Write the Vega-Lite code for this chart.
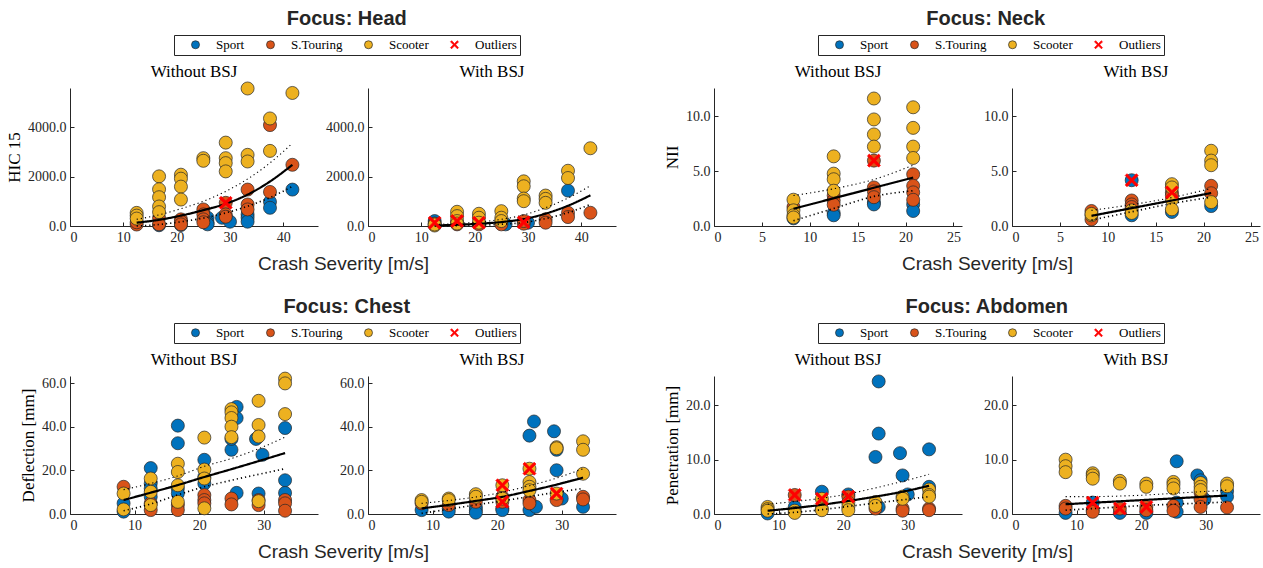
{
"$schema": "https://vega.github.io/schema/vega-lite/v6.json",
"padding": {"left": 5, "top": 8, "right": 5, "bottom": 5},
"background": "white",
"datasets": {
"headPts": [
{"p":"wo","x":16.7,"y":30,"t":"Sport"},{"p":"wo","x":20.8,"y":40,"t":"Sport"},{"p":"wo","x":25.8,"y":334,"t":"Sport"},{"p":"wo","x":25.8,"y":134,"t":"Sport"},{"p":"wo","x":25.8,"y":67,"t":"Sport"},{"p":"wo","x":28.5,"y":334,"t":"Sport"},{"p":"wo","x":30,"y":174,"t":"Sport"},{"p":"wo","x":33.3,"y":468,"t":"Sport"},{"p":"wo","x":33.3,"y":334,"t":"Sport"},{"p":"wo","x":33.3,"y":174,"t":"Sport"},{"p":"wo","x":37.5,"y":977,"t":"Sport"},{"p":"wo","x":37.5,"y":736,"t":"Sport"},{"p":"wo","x":41.7,"y":1472,"t":"Sport"},
{"p":"wo","x":12.5,"y":60,"t":"S.Touring"},{"p":"wo","x":12.5,"y":150,"t":"S.Touring"},{"p":"wo","x":16.7,"y":334,"t":"S.Touring"},{"p":"wo","x":16.7,"y":67,"t":"S.Touring"},{"p":"wo","x":20.8,"y":268,"t":"S.Touring"},{"p":"wo","x":20.8,"y":174,"t":"S.Touring"},{"p":"wo","x":20.8,"y":67,"t":"S.Touring"},{"p":"wo","x":25,"y":669,"t":"S.Touring"},{"p":"wo","x":25,"y":468,"t":"S.Touring"},{"p":"wo","x":25,"y":268,"t":"S.Touring"},{"p":"wo","x":25,"y":150,"t":"S.Touring"},{"p":"wo","x":29.2,"y":937,"t":"S.Touring"},{"p":"wo","x":29.2,"y":468,"t":"S.Touring"},{"p":"wo","x":29.2,"y":375,"t":"S.Touring"},{"p":"wo","x":33.3,"y":1472,"t":"S.Touring"},{"p":"wo","x":33.3,"y":870,"t":"S.Touring"},{"p":"wo","x":33.3,"y":669,"t":"S.Touring"},{"p":"wo","x":37.5,"y":4081,"t":"S.Touring"},{"p":"wo","x":37.5,"y":1378,"t":"S.Touring"},{"p":"wo","x":41.7,"y":2475,"t":"S.Touring"},
{"p":"wo","x":12.5,"y":530,"t":"Scooter"},{"p":"wo","x":12.5,"y":420,"t":"Scooter"},{"p":"wo","x":12.5,"y":300,"t":"Scooter"},{"p":"wo","x":16.7,"y":2007,"t":"Scooter"},{"p":"wo","x":16.7,"y":1485,"t":"Scooter"},{"p":"wo","x":16.7,"y":1164,"t":"Scooter"},{"p":"wo","x":16.7,"y":789,"t":"Scooter"},{"p":"wo","x":16.7,"y":560,"t":"Scooter"},{"p":"wo","x":20.8,"y":2074,"t":"Scooter"},{"p":"wo","x":20.8,"y":1913,"t":"Scooter"},{"p":"wo","x":20.8,"y":1592,"t":"Scooter"},{"p":"wo","x":20.8,"y":1070,"t":"Scooter"},{"p":"wo","x":25,"y":2743,"t":"Scooter"},{"p":"wo","x":25,"y":2636,"t":"Scooter"},{"p":"wo","x":29.2,"y":3372,"t":"Scooter"},{"p":"wo","x":29.2,"y":2743,"t":"Scooter"},{"p":"wo","x":29.2,"y":2542,"t":"Scooter"},{"p":"wo","x":29.2,"y":2208,"t":"Scooter"},{"p":"wo","x":33.3,"y":5560,"t":"Scooter"},{"p":"wo","x":33.3,"y":2877,"t":"Scooter"},{"p":"wo","x":33.3,"y":2609,"t":"Scooter"},{"p":"wo","x":37.5,"y":4349,"t":"Scooter"},{"p":"wo","x":37.5,"y":3037,"t":"Scooter"},{"p":"wo","x":41.7,"y":5379,"t":"Scooter"},
{"p":"wo","x":29.2,"y":937,"t":"Outliers"},
{"p":"w","x":12.5,"y":200,"t":"Sport"},{"p":"w","x":25.8,"y":67,"t":"Sport"},{"p":"w","x":30,"y":134,"t":"Sport"},{"p":"w","x":37.5,"y":1432,"t":"Sport"},
{"p":"w","x":12.5,"y":100,"t":"S.Touring"},{"p":"w","x":16.7,"y":67,"t":"S.Touring"},{"p":"w","x":20.8,"y":67,"t":"S.Touring"},{"p":"w","x":25,"y":67,"t":"S.Touring"},{"p":"w","x":29.2,"y":94,"t":"S.Touring"},{"p":"w","x":29.2,"y":200,"t":"S.Touring"},{"p":"w","x":33.3,"y":268,"t":"S.Touring"},{"p":"w","x":33.3,"y":134,"t":"S.Touring"},{"p":"w","x":37.5,"y":535,"t":"S.Touring"},{"p":"w","x":37.5,"y":361,"t":"S.Touring"},{"p":"w","x":41.7,"y":535,"t":"S.Touring"},
{"p":"w","x":12.5,"y":20,"t":"Scooter"},{"p":"w","x":12.5,"y":60,"t":"Scooter"},{"p":"w","x":16.7,"y":575,"t":"Scooter"},{"p":"w","x":16.7,"y":400,"t":"Scooter"},{"p":"w","x":16.7,"y":200,"t":"Scooter"},{"p":"w","x":16.7,"y":100,"t":"Scooter"},{"p":"w","x":20.8,"y":495,"t":"Scooter"},{"p":"w","x":20.8,"y":334,"t":"Scooter"},{"p":"w","x":20.8,"y":134,"t":"Scooter"},{"p":"w","x":25,"y":600,"t":"Scooter"},{"p":"w","x":25,"y":334,"t":"Scooter"},{"p":"w","x":25,"y":200,"t":"Scooter"},{"p":"w","x":29.2,"y":1806,"t":"Scooter"},{"p":"w","x":29.2,"y":1606,"t":"Scooter"},{"p":"w","x":29.2,"y":1110,"t":"Scooter"},{"p":"w","x":29.2,"y":1003,"t":"Scooter"},{"p":"w","x":33.3,"y":1231,"t":"Scooter"},{"p":"w","x":33.3,"y":1097,"t":"Scooter"},{"p":"w","x":33.3,"y":937,"t":"Scooter"},{"p":"w","x":37.5,"y":2234,"t":"Scooter"},{"p":"w","x":37.5,"y":1940,"t":"Scooter"},{"p":"w","x":41.7,"y":3144,"t":"Scooter"},
{"p":"w","x":12.5,"y":134,"t":"Outliers"},{"p":"w","x":16.7,"y":200,"t":"Outliers"},{"p":"w","x":20.8,"y":134,"t":"Outliers"},{"p":"w","x":29.2,"y":150,"t":"Outliers"}
],
"headFit": [
{"p":"wo","k":"fit","x":12.5,"y":134},{"p":"wo","k":"fit","x":16.7,"y":250},{"p":"wo","k":"fit","x":20.8,"y":420},{"p":"wo","k":"fit","x":25,"y":640},{"p":"wo","k":"fit","x":29.2,"y":900},{"p":"wo","k":"fit","x":33.3,"y":1270},{"p":"wo","k":"fit","x":37.5,"y":1800},{"p":"wo","k":"fit","x":41.7,"y":2475},
{"p":"wo","k":"hi","x":12.5,"y":270},{"p":"wo","k":"hi","x":16.7,"y":450},{"p":"wo","k":"hi","x":20.8,"y":700},{"p":"wo","k":"hi","x":25,"y":1000},{"p":"wo","k":"hi","x":29.2,"y":1400},{"p":"wo","k":"hi","x":33.3,"y":1900},{"p":"wo","k":"hi","x":37.5,"y":2550},{"p":"wo","k":"hi","x":41.7,"y":3345},
{"p":"wo","k":"lo","x":12.5,"y":0},{"p":"wo","k":"lo","x":16.7,"y":60},{"p":"wo","k":"lo","x":20.8,"y":170},{"p":"wo","k":"lo","x":25,"y":320},{"p":"wo","k":"lo","x":29.2,"y":530},{"p":"wo","k":"lo","x":33.3,"y":800},{"p":"wo","k":"lo","x":37.5,"y":1150},{"p":"wo","k":"lo","x":41.7,"y":1600},
{"p":"w","k":"fit","x":12.5,"y":20},{"p":"w","k":"fit","x":16.7,"y":50},{"p":"w","k":"fit","x":20.8,"y":90},{"p":"w","k":"fit","x":25,"y":160},{"p":"w","k":"fit","x":29.2,"y":280},{"p":"w","k":"fit","x":33.3,"y":500},{"p":"w","k":"fit","x":37.5,"y":820},{"p":"w","k":"fit","x":41.7,"y":1240},
{"p":"w","k":"hi","x":12.5,"y":60},{"p":"w","k":"hi","x":16.7,"y":100},{"p":"w","k":"hi","x":20.8,"y":160},{"p":"w","k":"hi","x":25,"y":270},{"p":"w","k":"hi","x":29.2,"y":450},{"p":"w","k":"hi","x":33.3,"y":740},{"p":"w","k":"hi","x":37.5,"y":1130},{"p":"w","k":"hi","x":41.7,"y":1630},
{"p":"w","k":"lo","x":12.5,"y":0},{"p":"w","k":"lo","x":16.7,"y":10},{"p":"w","k":"lo","x":20.8,"y":30},{"p":"w","k":"lo","x":25,"y":70},{"p":"w","k":"lo","x":29.2,"y":140},{"p":"w","k":"lo","x":33.3,"y":300},{"p":"w","k":"lo","x":37.5,"y":540},{"p":"w","k":"lo","x":41.7,"y":870}
],
"neckPts": [
{"p":"wo","x":8.3,"y":0.7,"t":"Sport"},{"p":"wo","x":12.5,"y":1.19,"t":"Sport"},{"p":"wo","x":12.5,"y":0.98,"t":"Sport"},{"p":"wo","x":16.7,"y":2.18,"t":"Sport"},{"p":"wo","x":16.7,"y":1.97,"t":"Sport"},{"p":"wo","x":20.8,"y":1.97,"t":"Sport"},{"p":"wo","x":20.8,"y":1.37,"t":"Sport"},
{"p":"wo","x":8.3,"y":1.73,"t":"S.Touring"},{"p":"wo","x":12.5,"y":2.78,"t":"S.Touring"},{"p":"wo","x":12.5,"y":2.33,"t":"S.Touring"},{"p":"wo","x":12.5,"y":1.94,"t":"S.Touring"},{"p":"wo","x":16.7,"y":5.97,"t":"S.Touring"},{"p":"wo","x":16.7,"y":3.52,"t":"S.Touring"},{"p":"wo","x":16.7,"y":3.16,"t":"S.Touring"},{"p":"wo","x":16.7,"y":2.63,"t":"S.Touring"},{"p":"wo","x":20.8,"y":4.72,"t":"S.Touring"},{"p":"wo","x":20.8,"y":3.67,"t":"S.Touring"},{"p":"wo","x":20.8,"y":3.07,"t":"S.Touring"},{"p":"wo","x":20.8,"y":2.39,"t":"S.Touring"},
{"p":"wo","x":8.3,"y":2.4,"t":"Scooter"},{"p":"wo","x":8.3,"y":1.43,"t":"Scooter"},{"p":"wo","x":8.3,"y":0.98,"t":"Scooter"},{"p":"wo","x":8.3,"y":0.78,"t":"Scooter"},{"p":"wo","x":12.5,"y":6.36,"t":"Scooter"},{"p":"wo","x":12.5,"y":4.78,"t":"Scooter"},{"p":"wo","x":12.5,"y":4.27,"t":"Scooter"},{"p":"wo","x":12.5,"y":3.22,"t":"Scooter"},{"p":"wo","x":16.7,"y":11.64,"t":"Scooter"},{"p":"wo","x":16.7,"y":9.73,"t":"Scooter"},{"p":"wo","x":16.7,"y":8.36,"t":"Scooter"},{"p":"wo","x":16.7,"y":7.25,"t":"Scooter"},{"p":"wo","x":20.8,"y":10.84,"t":"Scooter"},{"p":"wo","x":20.8,"y":8.96,"t":"Scooter"},{"p":"wo","x":20.8,"y":7.25,"t":"Scooter"},{"p":"wo","x":20.8,"y":6.21,"t":"Scooter"},
{"p":"wo","x":16.7,"y":5.97,"t":"Outliers"},
{"p":"w","x":12.5,"y":4.18,"t":"Sport"},{"p":"w","x":12.5,"y":0.98,"t":"Sport"},{"p":"w","x":16.7,"y":1.28,"t":"Sport"},{"p":"w","x":20.8,"y":1.82,"t":"Sport"},
{"p":"w","x":8.3,"y":1.37,"t":"S.Touring"},{"p":"w","x":8.3,"y":0.6,"t":"S.Touring"},{"p":"w","x":12.5,"y":2.33,"t":"S.Touring"},{"p":"w","x":12.5,"y":1.97,"t":"S.Touring"},{"p":"w","x":12.5,"y":1.73,"t":"S.Touring"},{"p":"w","x":16.7,"y":3.07,"t":"S.Touring"},{"p":"w","x":16.7,"y":2.8,"t":"S.Touring"},{"p":"w","x":20.8,"y":3.67,"t":"S.Touring"},{"p":"w","x":20.8,"y":2.99,"t":"S.Touring"},
{"p":"w","x":8.3,"y":0.98,"t":"Scooter"},{"p":"w","x":8.3,"y":1.1,"t":"Scooter"},{"p":"w","x":12.5,"y":1.43,"t":"Scooter"},{"p":"w","x":12.5,"y":1.19,"t":"Scooter"},{"p":"w","x":16.7,"y":3.82,"t":"Scooter"},{"p":"w","x":16.7,"y":3.52,"t":"Scooter"},{"p":"w","x":16.7,"y":2.39,"t":"Scooter"},{"p":"w","x":16.7,"y":1.52,"t":"Scooter"},{"p":"w","x":20.8,"y":6.87,"t":"Scooter"},{"p":"w","x":20.8,"y":5.97,"t":"Scooter"},{"p":"w","x":20.8,"y":5.55,"t":"Scooter"},{"p":"w","x":20.8,"y":2.18,"t":"Scooter"},
{"p":"w","x":12.5,"y":4.18,"t":"Outliers"},{"p":"w","x":16.7,"y":3.07,"t":"Outliers"}
],
"neckFit": [
{"p":"wo","k":"fit","x":8.3,"y":1.58},{"p":"wo","k":"fit","x":12.5,"y":2.53},{"p":"wo","k":"fit","x":16.7,"y":3.49},{"p":"wo","k":"fit","x":20.8,"y":4.42},
{"p":"wo","k":"hi","x":8.3,"y":2.78},{"p":"wo","k":"hi","x":12.5,"y":3.4},{"p":"wo","k":"hi","x":16.7,"y":4.25},{"p":"wo","k":"hi","x":20.8,"y":5.55},
{"p":"wo","k":"lo","x":8.3,"y":0.48},{"p":"wo","k":"lo","x":12.5,"y":1.6},{"p":"wo","k":"lo","x":16.7,"y":2.7},{"p":"wo","k":"lo","x":20.8,"y":3.22},
{"p":"w","k":"fit","x":8.3,"y":0.93},{"p":"w","k":"fit","x":12.5,"y":1.63},{"p":"w","k":"fit","x":16.7,"y":2.33},{"p":"w","k":"fit","x":20.8,"y":3.01},
{"p":"w","k":"hi","x":8.3,"y":1.43},{"p":"w","k":"hi","x":12.5,"y":1.95},{"p":"w","k":"hi","x":16.7,"y":2.6},{"p":"w","k":"hi","x":20.8,"y":3.43},
{"p":"w","k":"lo","x":8.3,"y":0.54},{"p":"w","k":"lo","x":12.5,"y":1.3},{"p":"w","k":"lo","x":16.7,"y":2.05},{"p":"w","k":"lo","x":20.8,"y":2.63}
],
"chestPts": [
{"p":"wo","x":8.3,"y":4.9,"t":"Sport"},{"p":"wo","x":8.3,"y":1.1,"t":"Sport"},{"p":"wo","x":12.5,"y":21.1,"t":"Sport"},{"p":"wo","x":12.5,"y":14,"t":"Sport"},{"p":"wo","x":12.5,"y":11.7,"t":"Sport"},{"p":"wo","x":12.5,"y":7.9,"t":"Sport"},{"p":"wo","x":16.7,"y":40.6,"t":"Sport"},{"p":"wo","x":16.7,"y":32.5,"t":"Sport"},{"p":"wo","x":16.7,"y":11.7,"t":"Sport"},{"p":"wo","x":16.7,"y":9.4,"t":"Sport"},{"p":"wo","x":20.8,"y":24.9,"t":"Sport"},{"p":"wo","x":20.8,"y":17,"t":"Sport"},{"p":"wo","x":20.8,"y":14,"t":"Sport"},{"p":"wo","x":25,"y":29.5,"t":"Sport"},{"p":"wo","x":25,"y":34.5,"t":"Sport"},{"p":"wo","x":25.8,"y":49.2,"t":"Sport"},{"p":"wo","x":25.8,"y":44.1,"t":"Sport"},{"p":"wo","x":25.8,"y":9.7,"t":"Sport"},{"p":"wo","x":28.8,"y":34.5,"t":"Sport"},{"p":"wo","x":29.8,"y":27.2,"t":"Sport"},{"p":"wo","x":29.2,"y":9.4,"t":"Sport"},{"p":"wo","x":33.3,"y":39.5,"t":"Sport"},{"p":"wo","x":33.3,"y":15.5,"t":"Sport"},{"p":"wo","x":33.3,"y":9.7,"t":"Sport"},
{"p":"wo","x":8.3,"y":12.5,"t":"S.Touring"},{"p":"wo","x":12.5,"y":4.9,"t":"S.Touring"},{"p":"wo","x":12.5,"y":1.8,"t":"S.Touring"},{"p":"wo","x":16.7,"y":4.1,"t":"S.Touring"},{"p":"wo","x":16.7,"y":1.8,"t":"S.Touring"},{"p":"wo","x":20.8,"y":8.7,"t":"S.Touring"},{"p":"wo","x":20.8,"y":6.4,"t":"S.Touring"},{"p":"wo","x":20.8,"y":4.9,"t":"S.Touring"},{"p":"wo","x":25,"y":7.1,"t":"S.Touring"},{"p":"wo","x":25,"y":4.4,"t":"S.Touring"},{"p":"wo","x":29.2,"y":6.4,"t":"S.Touring"},{"p":"wo","x":29.2,"y":4.1,"t":"S.Touring"},{"p":"wo","x":33.3,"y":6.4,"t":"S.Touring"},{"p":"wo","x":33.3,"y":4.9,"t":"S.Touring"},{"p":"wo","x":33.3,"y":1.5,"t":"S.Touring"},
{"p":"wo","x":8.3,"y":9.4,"t":"Scooter"},{"p":"wo","x":8.3,"y":2.1,"t":"Scooter"},{"p":"wo","x":12.5,"y":16.3,"t":"Scooter"},{"p":"wo","x":12.5,"y":10.2,"t":"Scooter"},{"p":"wo","x":12.5,"y":4.1,"t":"Scooter"},{"p":"wo","x":16.7,"y":23.1,"t":"Scooter"},{"p":"wo","x":16.7,"y":19.3,"t":"Scooter"},{"p":"wo","x":16.7,"y":13.2,"t":"Scooter"},{"p":"wo","x":16.7,"y":5.6,"t":"Scooter"},{"p":"wo","x":20.8,"y":35.1,"t":"Scooter"},{"p":"wo","x":20.8,"y":20.4,"t":"Scooter"},{"p":"wo","x":20.8,"y":16.3,"t":"Scooter"},{"p":"wo","x":20.8,"y":2.6,"t":"Scooter"},{"p":"wo","x":25,"y":48.2,"t":"Scooter"},{"p":"wo","x":25,"y":46.7,"t":"Scooter"},{"p":"wo","x":25,"y":44.1,"t":"Scooter"},{"p":"wo","x":25,"y":40.1,"t":"Scooter"},{"p":"wo","x":25,"y":35.3,"t":"Scooter"},{"p":"wo","x":29.2,"y":52,"t":"Scooter"},{"p":"wo","x":29.2,"y":40.9,"t":"Scooter"},{"p":"wo","x":29.2,"y":35.6,"t":"Scooter"},{"p":"wo","x":29.2,"y":5.9,"t":"Scooter"},{"p":"wo","x":33.3,"y":62.2,"t":"Scooter"},{"p":"wo","x":33.3,"y":60,"t":"Scooter"},{"p":"wo","x":33.3,"y":45.9,"t":"Scooter"},
{"p":"w","x":8.3,"y":1.8,"t":"Sport"},{"p":"w","x":12.5,"y":2.6,"t":"Sport"},{"p":"w","x":12.5,"y":1.1,"t":"Sport"},{"p":"w","x":16.7,"y":3.3,"t":"Sport"},{"p":"w","x":16.7,"y":1.8,"t":"Sport"},{"p":"w","x":16.7,"y":0.6,"t":"Sport"},{"p":"w","x":20.8,"y":2.6,"t":"Sport"},{"p":"w","x":20.8,"y":1.8,"t":"Sport"},{"p":"w","x":25,"y":36,"t":"Sport"},{"p":"w","x":25.7,"y":42.5,"t":"Sport"},{"p":"w","x":25,"y":1.8,"t":"Sport"},{"p":"w","x":26,"y":3.3,"t":"Sport"},{"p":"w","x":28.8,"y":38,"t":"Sport"},{"p":"w","x":29.2,"y":20.1,"t":"Sport"},{"p":"w","x":29.2,"y":29.5,"t":"Sport"},{"p":"w","x":30,"y":7.1,"t":"Sport"},{"p":"w","x":33.3,"y":3.3,"t":"Sport"},
{"p":"w","x":8.3,"y":4.9,"t":"S.Touring"},{"p":"w","x":12.5,"y":4.1,"t":"S.Touring"},{"p":"w","x":16.7,"y":5.6,"t":"S.Touring"},{"p":"w","x":20.8,"y":7.9,"t":"S.Touring"},{"p":"w","x":20.8,"y":5.6,"t":"S.Touring"},{"p":"w","x":25,"y":6.4,"t":"S.Touring"},{"p":"w","x":25,"y":4.9,"t":"S.Touring"},{"p":"w","x":29.2,"y":6.4,"t":"S.Touring"},{"p":"w","x":33.3,"y":7.9,"t":"S.Touring"},{"p":"w","x":33.3,"y":6.7,"t":"S.Touring"},
{"p":"w","x":8.3,"y":6.4,"t":"Scooter"},{"p":"w","x":8.3,"y":5.6,"t":"Scooter"},{"p":"w","x":12.5,"y":7.1,"t":"Scooter"},{"p":"w","x":12.5,"y":6.4,"t":"Scooter"},{"p":"w","x":16.7,"y":9.1,"t":"Scooter"},{"p":"w","x":16.7,"y":7.9,"t":"Scooter"},{"p":"w","x":20.8,"y":13.2,"t":"Scooter"},{"p":"w","x":20.8,"y":7.1,"t":"Scooter"},{"p":"w","x":25,"y":20.8,"t":"Scooter"},{"p":"w","x":25,"y":14.7,"t":"Scooter"},{"p":"w","x":25,"y":12.5,"t":"Scooter"},{"p":"w","x":25,"y":10.9,"t":"Scooter"},{"p":"w","x":29.2,"y":30.7,"t":"Scooter"},{"p":"w","x":29.2,"y":30.2,"t":"Scooter"},{"p":"w","x":29.2,"y":9.4,"t":"Scooter"},{"p":"w","x":33.3,"y":33.4,"t":"Scooter"},{"p":"w","x":33.3,"y":29.5,"t":"Scooter"},{"p":"w","x":33.3,"y":18.5,"t":"Scooter"},
{"p":"w","x":20.8,"y":13.2,"t":"Outliers"},{"p":"w","x":20.8,"y":5.6,"t":"Outliers"},{"p":"w","x":25,"y":20.8,"t":"Outliers"},{"p":"w","x":29.2,"y":9.4,"t":"Outliers"}
],
"chestFit": [
{"p":"wo","k":"fit","x":8.3,"y":6.4},{"p":"wo","k":"fit","x":12.5,"y":9.8},{"p":"wo","k":"fit","x":16.7,"y":13.3},{"p":"wo","k":"fit","x":20.8,"y":17},{"p":"wo","k":"fit","x":25,"y":20.6},{"p":"wo","k":"fit","x":29.2,"y":24.3},{"p":"wo","k":"fit","x":33.3,"y":28},
{"p":"wo","k":"hi","x":8.3,"y":11.2},{"p":"wo","k":"hi","x":12.5,"y":14},{"p":"wo","k":"hi","x":16.7,"y":17.5},{"p":"wo","k":"hi","x":20.8,"y":21.9},{"p":"wo","k":"hi","x":25,"y":25.5},{"p":"wo","k":"hi","x":29.2,"y":30},{"p":"wo","k":"hi","x":33.3,"y":35.3},
{"p":"wo","k":"lo","x":8.3,"y":1.5},{"p":"wo","k":"lo","x":12.5,"y":4.6},{"p":"wo","k":"lo","x":16.7,"y":8.8},{"p":"wo","k":"lo","x":20.8,"y":12.5},{"p":"wo","k":"lo","x":25,"y":15.5},{"p":"wo","k":"lo","x":29.2,"y":18.2},{"p":"wo","k":"lo","x":33.3,"y":20.8},
{"p":"w","k":"fit","x":8.3,"y":2.6},{"p":"w","k":"fit","x":12.5,"y":4.2},{"p":"w","k":"fit","x":16.7,"y":6},{"p":"w","k":"fit","x":20.8,"y":7.9},{"p":"w","k":"fit","x":25,"y":10.6},{"p":"w","k":"fit","x":29.2,"y":13.5},{"p":"w","k":"fit","x":33.3,"y":16.7},
{"p":"w","k":"hi","x":8.3,"y":4.9},{"p":"w","k":"hi","x":12.5,"y":6.2},{"p":"w","k":"hi","x":16.7,"y":7.8},{"p":"w","k":"hi","x":20.8,"y":10},{"p":"w","k":"hi","x":25,"y":13},{"p":"w","k":"hi","x":29.2,"y":16.5},{"p":"w","k":"hi","x":33.3,"y":20.8},
{"p":"w","k":"lo","x":8.3,"y":0.3},{"p":"w","k":"lo","x":12.5,"y":2.2},{"p":"w","k":"lo","x":16.7,"y":4.2},{"p":"w","k":"lo","x":20.8,"y":6},{"p":"w","k":"lo","x":25,"y":8},{"p":"w","k":"lo","x":29.2,"y":10},{"p":"w","k":"lo","x":33.3,"y":11.7}
],
"abdPts": [
{"p":"wo","x":8.3,"y":0.1,"t":"Sport"},{"p":"wo","x":12.5,"y":1.3,"t":"Sport"},{"p":"wo","x":16.7,"y":4.1,"t":"Sport"},{"p":"wo","x":20.8,"y":3.6,"t":"Sport"},{"p":"wo","x":25,"y":10.5,"t":"Sport"},{"p":"wo","x":25.5,"y":24.4,"t":"Sport"},{"p":"wo","x":25.5,"y":14.8,"t":"Sport"},{"p":"wo","x":25.5,"y":1.3,"t":"Sport"},{"p":"wo","x":28.8,"y":11.2,"t":"Sport"},{"p":"wo","x":29.2,"y":7.1,"t":"Sport"},{"p":"wo","x":30,"y":3.6,"t":"Sport"},{"p":"wo","x":33.3,"y":11.9,"t":"Sport"},{"p":"wo","x":33.3,"y":5,"t":"Sport"},
{"p":"wo","x":12.5,"y":3.5,"t":"S.Touring"},{"p":"wo","x":20.8,"y":3.2,"t":"S.Touring"},{"p":"wo","x":25,"y":1,"t":"S.Touring"},{"p":"wo","x":29.2,"y":1,"t":"S.Touring"},{"p":"wo","x":29.2,"y":0.6,"t":"S.Touring"},{"p":"wo","x":33.3,"y":1,"t":"S.Touring"},{"p":"wo","x":33.3,"y":0.7,"t":"S.Touring"},
{"p":"wo","x":8.3,"y":1.3,"t":"Scooter"},{"p":"wo","x":8.3,"y":0.9,"t":"Scooter"},{"p":"wo","x":8.3,"y":0.6,"t":"Scooter"},{"p":"wo","x":12.5,"y":0.6,"t":"Scooter"},{"p":"wo","x":12.5,"y":0.2,"t":"Scooter"},{"p":"wo","x":16.7,"y":2.8,"t":"Scooter"},{"p":"wo","x":16.7,"y":1,"t":"Scooter"},{"p":"wo","x":16.7,"y":0.7,"t":"Scooter"},{"p":"wo","x":20.8,"y":2.1,"t":"Scooter"},{"p":"wo","x":20.8,"y":1.3,"t":"Scooter"},{"p":"wo","x":20.8,"y":0.7,"t":"Scooter"},{"p":"wo","x":25,"y":2.2,"t":"Scooter"},{"p":"wo","x":25,"y":1.5,"t":"Scooter"},{"p":"wo","x":29.2,"y":3.2,"t":"Scooter"},{"p":"wo","x":29.2,"y":2.8,"t":"Scooter"},{"p":"wo","x":33.3,"y":4.5,"t":"Scooter"},{"p":"wo","x":33.3,"y":3.5,"t":"Scooter"},{"p":"wo","x":33.3,"y":3.2,"t":"Scooter"},
{"p":"wo","x":12.5,"y":3.5,"t":"Outliers"},{"p":"wo","x":16.7,"y":2.8,"t":"Outliers"},{"p":"wo","x":20.8,"y":3.2,"t":"Outliers"},
{"p":"w","x":8.3,"y":0.2,"t":"Sport"},{"p":"w","x":12.5,"y":2.1,"t":"Sport"},{"p":"w","x":16.7,"y":0.2,"t":"Sport"},{"p":"w","x":20.8,"y":0.2,"t":"Sport"},{"p":"w","x":25.5,"y":9.7,"t":"Sport"},{"p":"w","x":25.5,"y":2.1,"t":"Sport"},{"p":"w","x":25.5,"y":0.4,"t":"Sport"},{"p":"w","x":28.7,"y":7.1,"t":"Sport"},{"p":"w","x":29.2,"y":6.2,"t":"Sport"},{"p":"w","x":29.8,"y":2.7,"t":"Sport"},{"p":"w","x":33.3,"y":4.2,"t":"Sport"},{"p":"w","x":33.3,"y":3.2,"t":"Sport"},
{"p":"w","x":8.3,"y":1.5,"t":"S.Touring"},{"p":"w","x":8.3,"y":1,"t":"S.Touring"},{"p":"w","x":12.5,"y":0.7,"t":"S.Touring"},{"p":"w","x":12.5,"y":0.4,"t":"S.Touring"},{"p":"w","x":16.7,"y":1,"t":"S.Touring"},{"p":"w","x":20.8,"y":1.3,"t":"S.Touring"},{"p":"w","x":20.8,"y":0.7,"t":"S.Touring"},{"p":"w","x":25,"y":1.5,"t":"S.Touring"},{"p":"w","x":25,"y":0.6,"t":"S.Touring"},{"p":"w","x":29.2,"y":3.9,"t":"S.Touring"},{"p":"w","x":29.2,"y":2.7,"t":"S.Touring"},{"p":"w","x":29.2,"y":1.3,"t":"S.Touring"},{"p":"w","x":33.3,"y":1.2,"t":"S.Touring"},
{"p":"w","x":8.3,"y":10,"t":"Scooter"},{"p":"w","x":8.3,"y":8.8,"t":"Scooter"},{"p":"w","x":8.3,"y":7.7,"t":"Scooter"},{"p":"w","x":12.5,"y":7.5,"t":"Scooter"},{"p":"w","x":12.5,"y":7.1,"t":"Scooter"},{"p":"w","x":12.5,"y":6.5,"t":"Scooter"},{"p":"w","x":16.7,"y":6.1,"t":"Scooter"},{"p":"w","x":16.7,"y":5.6,"t":"Scooter"},{"p":"w","x":20.8,"y":5.6,"t":"Scooter"},{"p":"w","x":20.8,"y":5,"t":"Scooter"},{"p":"w","x":25,"y":5.9,"t":"Scooter"},{"p":"w","x":25,"y":5.4,"t":"Scooter"},{"p":"w","x":25,"y":4.7,"t":"Scooter"},{"p":"w","x":29.2,"y":5.7,"t":"Scooter"},{"p":"w","x":29.2,"y":5,"t":"Scooter"},{"p":"w","x":29.2,"y":4.4,"t":"Scooter"},{"p":"w","x":33.3,"y":5.6,"t":"Scooter"},{"p":"w","x":33.3,"y":5.1,"t":"Scooter"},
{"p":"w","x":12.5,"y":2.1,"t":"Outliers"},{"p":"w","x":16.7,"y":1,"t":"Outliers"},{"p":"w","x":20.8,"y":1.3,"t":"Outliers"}
],
"abdFit": [
{"p":"wo","k":"fit","x":8.3,"y":0.6},{"p":"wo","k":"fit","x":12.5,"y":1.1},{"p":"wo","k":"fit","x":16.7,"y":1.7},{"p":"wo","k":"fit","x":20.8,"y":2.4},{"p":"wo","k":"fit","x":25,"y":3.2},{"p":"wo","k":"fit","x":29.2,"y":4.1},{"p":"wo","k":"fit","x":33.3,"y":5.2},
{"p":"wo","k":"hi","x":8.3,"y":1.8},{"p":"wo","k":"hi","x":12.5,"y":2.3},{"p":"wo","k":"hi","x":16.7,"y":2.9},{"p":"wo","k":"hi","x":20.8,"y":3.7},{"p":"wo","k":"hi","x":25,"y":4.8},{"p":"wo","k":"hi","x":29.2,"y":6},{"p":"wo","k":"hi","x":33.3,"y":7.3},
{"p":"wo","k":"lo","x":8.3,"y":0},{"p":"wo","k":"lo","x":12.5,"y":0.3},{"p":"wo","k":"lo","x":16.7,"y":0.8},{"p":"wo","k":"lo","x":20.8,"y":1.4},{"p":"wo","k":"lo","x":25,"y":2},{"p":"wo","k":"lo","x":29.2,"y":2.6},{"p":"wo","k":"lo","x":33.3,"y":3.2},
{"p":"w","k":"fit","x":8.3,"y":1.8},{"p":"w","k":"fit","x":12.5,"y":2.07},{"p":"w","k":"fit","x":16.7,"y":2.34},{"p":"w","k":"fit","x":20.8,"y":2.6},{"p":"w","k":"fit","x":25,"y":2.87},{"p":"w","k":"fit","x":29.2,"y":3.14},{"p":"w","k":"fit","x":33.3,"y":3.4},
{"p":"w","k":"hi","x":8.3,"y":3.2},{"p":"w","k":"hi","x":12.5,"y":3.2},{"p":"w","k":"hi","x":16.7,"y":3.3},{"p":"w","k":"hi","x":20.8,"y":3.5},{"p":"w","k":"hi","x":25,"y":3.8},{"p":"w","k":"hi","x":29.2,"y":4.1},{"p":"w","k":"hi","x":33.3,"y":4.4},
{"p":"w","k":"lo","x":8.3,"y":0.7},{"p":"w","k":"lo","x":12.5,"y":1},{"p":"w","k":"lo","x":16.7,"y":1.3},{"p":"w","k":"lo","x":20.8,"y":1.6},{"p":"w","k":"lo","x":25,"y":1.8},{"p":"w","k":"lo","x":29.2,"y":2},{"p":"w","k":"lo","x":33.3,"y":2.2}
]
},
"vconcat": [
{"hconcat": [
 {"title": {"text": "Focus: Head", "font": "Liberation Sans", "fontSize": 20, "fontWeight": "bold", "color": "#262626", "anchor": "middle", "frame": "bounds", "dx": 36, "offset": 6},
  "hconcat": [
  {"width": 248, "height": 138, "title": {"text": "Without BSJ", "offset": 0},
   "encoding": {"x": {"field": "x", "type": "quantitative", "scale": {"domain": [0, 46.5], "nice": false, "zero": false}, "axis": {"values": [0,10,20,30,40], "format": "d", "title": "Crash Severity [m/s]", "titleX": 273, "titleAlign": "center"}},
                "y": {"field": "y", "type": "quantitative", "scale": {"domain": [0, 5580], "nice": false}, "axis": {"values": [0,2000,4000], "format": ".1f", "title": "HIC 15"}}},
   "layer": [
    {"data": {"name": "headPts"}, "transform": [{"filter": "datum.p=='wo' && datum.t!='Outliers'"}], "mark": {"type": "point", "filled": true, "opacity": 1, "strokeWidth": 0.7},
     "encoding": {"fill": {"field": "t", "type": "nominal", "scale": {"domain": ["Sport","S.Touring","Scooter","Outliers"], "range": ["#0072BD","#D95319","#EDB120","#FF0000"]}, "legend": {"title": null, "orient": "none", "legendX": 104, "legendY": -53, "direction": "horizontal", "columns": 4}},
                  "stroke": {"field": "t", "type": "nominal", "scale": {"domain": ["Sport","S.Touring","Scooter","Outliers"], "range": ["#262626","#262626","#262626","#FF0000"]}, "legend": {"title": null, "orient": "none", "legendX": 104, "legendY": -53, "direction": "horizontal", "columns": 4}},
                  "shape": {"field": "t", "type": "nominal", "scale": {"domain": ["Sport","S.Touring","Scooter","Outliers"], "range": ["circle","circle","circle","M-1,-0.72L-0.72,-1L0,-0.28L0.72,-1L1,-0.72L0.28,0L1,0.72L0.72,1L0,0.28L-0.72,1L-1,0.72L-0.28,0Z"]}, "legend": {"title": null, "orient": "none", "legendX": 104, "legendY": -53, "direction": "horizontal", "columns": 4}},
                  "size": {"field": "t", "type": "ordinal", "scale": {"domain": ["Sport","S.Touring","Scooter","Outliers"], "range": [170,170,170,90]}, "legend": null}}},
    {"data": {"name": "headFit"}, "transform": [{"filter": "datum.p=='wo'"}], "mark": {"type": "line", "stroke": "black", "interpolate": "monotone"},
     "encoding": {"detail": {"field": "k"}, "strokeWidth": {"field": "k", "type": "ordinal", "scale": {"domain": ["fit","lo","hi"], "range": [2.2,1.1,1.1]}, "legend": null}, "strokeDash": {"field": "k", "type": "nominal", "scale": {"domain": ["fit","lo","hi"], "range": [[1,0],[1.2,3],[1.2,3]]}, "legend": null}}},
    {"data": {"name": "headPts"}, "transform": [{"filter": "datum.p=='wo' && datum.t=='Outliers'"}], "mark": {"type": "point", "filled": true, "opacity": 1, "strokeWidth": 0.7},
     "encoding": {"fill": {"field": "t", "type": "nominal", "scale": {"domain": ["Sport","S.Touring","Scooter","Outliers"], "range": ["#0072BD","#D95319","#EDB120","#FF0000"]}, "legend": {"title": null, "orient": "none", "legendX": 104, "legendY": -53, "direction": "horizontal", "columns": 4}},
                  "stroke": {"field": "t", "type": "nominal", "scale": {"domain": ["Sport","S.Touring","Scooter","Outliers"], "range": ["#262626","#262626","#262626","#FF0000"]}, "legend": {"title": null, "orient": "none", "legendX": 104, "legendY": -53, "direction": "horizontal", "columns": 4}},
                  "shape": {"field": "t", "type": "nominal", "scale": {"domain": ["Sport","S.Touring","Scooter","Outliers"], "range": ["circle","circle","circle","M-1,-0.72L-0.72,-1L0,-0.28L0.72,-1L1,-0.72L0.28,0L1,0.72L0.72,1L0,0.28L-0.72,1L-1,0.72L-0.28,0Z"]}, "legend": {"title": null, "orient": "none", "legendX": 104, "legendY": -53, "direction": "horizontal", "columns": 4}},
                  "size": {"field": "t", "type": "ordinal", "scale": {"domain": ["Sport","S.Touring","Scooter","Outliers"], "range": [170,170,170,90]}, "legend": null}}}
   ]},
  {"width": 248, "height": 138, "title": "With BSJ",
   "encoding": {"x": {"field": "x", "type": "quantitative", "scale": {"domain": [0, 46.5], "nice": false, "zero": false}, "axis": {"values": [0,10,20,30,40], "format": "d", "title": null}},
                "y": {"field": "y", "type": "quantitative", "scale": {"domain": [0, 5580], "nice": false}, "axis": {"values": [0,2000,4000], "format": ".1f", "title": null}}},
   "layer": [
    {"data": {"name": "headPts"}, "transform": [{"filter": "datum.p=='w' && datum.t!='Outliers'"}], "mark": {"type": "point", "filled": true, "opacity": 1, "strokeWidth": 0.7},
     "encoding": {"fill": {"field": "t", "type": "nominal", "scale": {"domain": ["Sport","S.Touring","Scooter","Outliers"], "range": ["#0072BD","#D95319","#EDB120","#FF0000"]}, "legend": null},
                  "stroke": {"field": "t", "type": "nominal", "scale": {"domain": ["Sport","S.Touring","Scooter","Outliers"], "range": ["#262626","#262626","#262626","#FF0000"]}, "legend": null},
                  "shape": {"field": "t", "type": "nominal", "scale": {"domain": ["Sport","S.Touring","Scooter","Outliers"], "range": ["circle","circle","circle","M-1,-0.72L-0.72,-1L0,-0.28L0.72,-1L1,-0.72L0.28,0L1,0.72L0.72,1L0,0.28L-0.72,1L-1,0.72L-0.28,0Z"]}, "legend": null},
                  "size": {"field": "t", "type": "ordinal", "scale": {"domain": ["Sport","S.Touring","Scooter","Outliers"], "range": [170,170,170,90]}, "legend": null}}},
    {"data": {"name": "headFit"}, "transform": [{"filter": "datum.p=='w'"}], "mark": {"type": "line", "stroke": "black", "interpolate": "monotone"},
     "encoding": {"detail": {"field": "k"}, "strokeWidth": {"field": "k", "type": "ordinal", "scale": {"domain": ["fit","lo","hi"], "range": [2.2,1.1,1.1]}, "legend": null}, "strokeDash": {"field": "k", "type": "nominal", "scale": {"domain": ["fit","lo","hi"], "range": [[1,0],[1.2,3],[1.2,3]]}, "legend": null}}},
    {"data": {"name": "headPts"}, "transform": [{"filter": "datum.p=='w' && datum.t=='Outliers'"}], "mark": {"type": "point", "filled": true, "opacity": 1, "strokeWidth": 0.7},
     "encoding": {"fill": {"field": "t", "type": "nominal", "scale": {"domain": ["Sport","S.Touring","Scooter","Outliers"], "range": ["#0072BD","#D95319","#EDB120","#FF0000"]}, "legend": null},
                  "stroke": {"field": "t", "type": "nominal", "scale": {"domain": ["Sport","S.Touring","Scooter","Outliers"], "range": ["#262626","#262626","#262626","#FF0000"]}, "legend": null},
                  "shape": {"field": "t", "type": "nominal", "scale": {"domain": ["Sport","S.Touring","Scooter","Outliers"], "range": ["circle","circle","circle","M-1,-0.72L-0.72,-1L0,-0.28L0.72,-1L1,-0.72L0.28,0L1,0.72L0.72,1L0,0.28L-0.72,1L-1,0.72L-0.28,0Z"]}, "legend": null},
                  "size": {"field": "t", "type": "ordinal", "scale": {"domain": ["Sport","S.Touring","Scooter","Outliers"], "range": [170,170,170,90]}, "legend": null}}}
   ]}
  ], "spacing": 50, "bounds": "flush",
  "resolve": {"scale": {"x": "independent", "y": "independent"}}},
 {"title": {"text": "Focus: Neck", "font": "Liberation Sans", "fontSize": 20, "fontWeight": "bold", "color": "#262626", "anchor": "middle", "frame": "bounds", "dx": 24, "offset": 6},
  "hconcat": [
  {"width": 248, "height": 138, "title": "Without BSJ",
   "encoding": {"x": {"field": "x", "type": "quantitative", "scale": {"domain": [0, 25.9], "nice": false, "zero": false}, "axis": {"values": [0,5,10,15,20,25], "format": "d", "title": "Crash Severity [m/s]", "titleX": 273, "titleAlign": "center"}},
                "y": {"field": "y", "type": "quantitative", "scale": {"domain": [0, 12.6], "nice": false}, "axis": {"values": [0,5,10], "format": ".1f", "title": "NII"}}},
   "layer": [
    {"data": {"name": "neckPts"}, "transform": [{"filter": "datum.p=='wo' && datum.t!='Outliers'"}], "mark": {"type": "point", "filled": true, "opacity": 1, "strokeWidth": 0.7},
     "encoding": {"fill": {"field": "t", "type": "nominal", "scale": {"domain": ["Sport","S.Touring","Scooter","Outliers"], "range": ["#0072BD","#D95319","#EDB120","#FF0000"]}, "legend": {"title": null, "orient": "none", "legendX": 104, "legendY": -53, "direction": "horizontal", "columns": 4}},
                  "stroke": {"field": "t", "type": "nominal", "scale": {"domain": ["Sport","S.Touring","Scooter","Outliers"], "range": ["#262626","#262626","#262626","#FF0000"]}, "legend": {"title": null, "orient": "none", "legendX": 104, "legendY": -53, "direction": "horizontal", "columns": 4}},
                  "shape": {"field": "t", "type": "nominal", "scale": {"domain": ["Sport","S.Touring","Scooter","Outliers"], "range": ["circle","circle","circle","M-1,-0.72L-0.72,-1L0,-0.28L0.72,-1L1,-0.72L0.28,0L1,0.72L0.72,1L0,0.28L-0.72,1L-1,0.72L-0.28,0Z"]}, "legend": {"title": null, "orient": "none", "legendX": 104, "legendY": -53, "direction": "horizontal", "columns": 4}},
                  "size": {"field": "t", "type": "ordinal", "scale": {"domain": ["Sport","S.Touring","Scooter","Outliers"], "range": [170,170,170,90]}, "legend": null}}},
    {"data": {"name": "neckFit"}, "transform": [{"filter": "datum.p=='wo'"}], "mark": {"type": "line", "stroke": "black", "interpolate": "monotone"},
     "encoding": {"detail": {"field": "k"}, "strokeWidth": {"field": "k", "type": "ordinal", "scale": {"domain": ["fit","lo","hi"], "range": [2.2,1.1,1.1]}, "legend": null}, "strokeDash": {"field": "k", "type": "nominal", "scale": {"domain": ["fit","lo","hi"], "range": [[1,0],[1.2,3],[1.2,3]]}, "legend": null}}},
    {"data": {"name": "neckPts"}, "transform": [{"filter": "datum.p=='wo' && datum.t=='Outliers'"}], "mark": {"type": "point", "filled": true, "opacity": 1, "strokeWidth": 0.7},
     "encoding": {"fill": {"field": "t", "type": "nominal", "scale": {"domain": ["Sport","S.Touring","Scooter","Outliers"], "range": ["#0072BD","#D95319","#EDB120","#FF0000"]}, "legend": {"title": null, "orient": "none", "legendX": 104, "legendY": -53, "direction": "horizontal", "columns": 4}},
                  "stroke": {"field": "t", "type": "nominal", "scale": {"domain": ["Sport","S.Touring","Scooter","Outliers"], "range": ["#262626","#262626","#262626","#FF0000"]}, "legend": {"title": null, "orient": "none", "legendX": 104, "legendY": -53, "direction": "horizontal", "columns": 4}},
                  "shape": {"field": "t", "type": "nominal", "scale": {"domain": ["Sport","S.Touring","Scooter","Outliers"], "range": ["circle","circle","circle","M-1,-0.72L-0.72,-1L0,-0.28L0.72,-1L1,-0.72L0.28,0L1,0.72L0.72,1L0,0.28L-0.72,1L-1,0.72L-0.28,0Z"]}, "legend": {"title": null, "orient": "none", "legendX": 104, "legendY": -53, "direction": "horizontal", "columns": 4}},
                  "size": {"field": "t", "type": "ordinal", "scale": {"domain": ["Sport","S.Touring","Scooter","Outliers"], "range": [170,170,170,90]}, "legend": null}}}
   ]},
  {"width": 248, "height": 138, "title": "With BSJ",
   "encoding": {"x": {"field": "x", "type": "quantitative", "scale": {"domain": [0, 25.9], "nice": false, "zero": false}, "axis": {"values": [0,5,10,15,20,25], "format": "d", "title": null}},
                "y": {"field": "y", "type": "quantitative", "scale": {"domain": [0, 12.6], "nice": false}, "axis": {"values": [0,5,10], "format": ".1f", "title": null}}},
   "layer": [
    {"data": {"name": "neckPts"}, "transform": [{"filter": "datum.p=='w' && datum.t!='Outliers'"}], "mark": {"type": "point", "filled": true, "opacity": 1, "strokeWidth": 0.7},
     "encoding": {"fill": {"field": "t", "type": "nominal", "scale": {"domain": ["Sport","S.Touring","Scooter","Outliers"], "range": ["#0072BD","#D95319","#EDB120","#FF0000"]}, "legend": null},
                  "stroke": {"field": "t", "type": "nominal", "scale": {"domain": ["Sport","S.Touring","Scooter","Outliers"], "range": ["#262626","#262626","#262626","#FF0000"]}, "legend": null},
                  "shape": {"field": "t", "type": "nominal", "scale": {"domain": ["Sport","S.Touring","Scooter","Outliers"], "range": ["circle","circle","circle","M-1,-0.72L-0.72,-1L0,-0.28L0.72,-1L1,-0.72L0.28,0L1,0.72L0.72,1L0,0.28L-0.72,1L-1,0.72L-0.28,0Z"]}, "legend": null},
                  "size": {"field": "t", "type": "ordinal", "scale": {"domain": ["Sport","S.Touring","Scooter","Outliers"], "range": [170,170,170,90]}, "legend": null}}},
    {"data": {"name": "neckFit"}, "transform": [{"filter": "datum.p=='w'"}], "mark": {"type": "line", "stroke": "black", "interpolate": "monotone"},
     "encoding": {"detail": {"field": "k"}, "strokeWidth": {"field": "k", "type": "ordinal", "scale": {"domain": ["fit","lo","hi"], "range": [2.2,1.1,1.1]}, "legend": null}, "strokeDash": {"field": "k", "type": "nominal", "scale": {"domain": ["fit","lo","hi"], "range": [[1,0],[1.2,3],[1.2,3]]}, "legend": null}}},
    {"data": {"name": "neckPts"}, "transform": [{"filter": "datum.p=='w' && datum.t=='Outliers'"}], "mark": {"type": "point", "filled": true, "opacity": 1, "strokeWidth": 0.7},
     "encoding": {"fill": {"field": "t", "type": "nominal", "scale": {"domain": ["Sport","S.Touring","Scooter","Outliers"], "range": ["#0072BD","#D95319","#EDB120","#FF0000"]}, "legend": null},
                  "stroke": {"field": "t", "type": "nominal", "scale": {"domain": ["Sport","S.Touring","Scooter","Outliers"], "range": ["#262626","#262626","#262626","#FF0000"]}, "legend": null},
                  "shape": {"field": "t", "type": "nominal", "scale": {"domain": ["Sport","S.Touring","Scooter","Outliers"], "range": ["circle","circle","circle","M-1,-0.72L-0.72,-1L0,-0.28L0.72,-1L1,-0.72L0.28,0L1,0.72L0.72,1L0,0.28L-0.72,1L-1,0.72L-0.28,0Z"]}, "legend": null},
                  "size": {"field": "t", "type": "ordinal", "scale": {"domain": ["Sport","S.Touring","Scooter","Outliers"], "range": [170,170,170,90]}, "legend": null}}}
   ]}
  ], "spacing": 50, "bounds": "flush",
  "resolve": {"scale": {"x": "independent", "y": "independent"}}}
 ], "spacing": 47,
 "resolve": {"scale": {"x": "independent", "y": "independent", "fill": "independent", "stroke": "independent", "shape": "independent"}, "legend": {"fill": "independent", "stroke": "independent", "shape": "independent"}}},
{"hconcat": [
 {"title": {"text": "Focus: Chest", "font": "Liberation Sans", "fontSize": 20, "fontWeight": "bold", "color": "#262626", "anchor": "middle", "frame": "bounds", "dx": 29, "offset": 6},
  "hconcat": [
  {"width": 248, "height": 138, "title": {"text": "Without BSJ", "offset": 2},
   "encoding": {"x": {"field": "x", "type": "quantitative", "scale": {"domain": [0, 38.4], "nice": false, "zero": false}, "axis": {"values": [0,10,20,30], "format": "d", "title": "Crash Severity [m/s]", "titleX": 273, "titleAlign": "center"}},
                "y": {"field": "y", "type": "quantitative", "scale": {"domain": [0, 63.4], "nice": false}, "axis": {"values": [0,20,40,60], "format": ".1f", "title": "Deflection [mm]"}}},
   "layer": [
    {"data": {"name": "chestPts"}, "transform": [{"filter": "datum.p=='wo' && datum.t!='Outliers'"}], "mark": {"type": "point", "filled": true, "opacity": 1, "strokeWidth": 0.7},
     "encoding": {"fill": {"field": "t", "type": "nominal", "scale": {"domain": ["Sport","S.Touring","Scooter","Outliers"], "range": ["#0072BD","#D95319","#EDB120","#FF0000"]}, "legend": {"title": null, "orient": "none", "legendX": 104, "legendY": -53, "direction": "horizontal", "columns": 4}},
                  "stroke": {"field": "t", "type": "nominal", "scale": {"domain": ["Sport","S.Touring","Scooter","Outliers"], "range": ["#262626","#262626","#262626","#FF0000"]}, "legend": {"title": null, "orient": "none", "legendX": 104, "legendY": -53, "direction": "horizontal", "columns": 4}},
                  "shape": {"field": "t", "type": "nominal", "scale": {"domain": ["Sport","S.Touring","Scooter","Outliers"], "range": ["circle","circle","circle","M-1,-0.72L-0.72,-1L0,-0.28L0.72,-1L1,-0.72L0.28,0L1,0.72L0.72,1L0,0.28L-0.72,1L-1,0.72L-0.28,0Z"]}, "legend": {"title": null, "orient": "none", "legendX": 104, "legendY": -53, "direction": "horizontal", "columns": 4}},
                  "size": {"field": "t", "type": "ordinal", "scale": {"domain": ["Sport","S.Touring","Scooter","Outliers"], "range": [170,170,170,90]}, "legend": null}}},
    {"data": {"name": "chestFit"}, "transform": [{"filter": "datum.p=='wo'"}], "mark": {"type": "line", "stroke": "black", "interpolate": "monotone"},
     "encoding": {"detail": {"field": "k"}, "strokeWidth": {"field": "k", "type": "ordinal", "scale": {"domain": ["fit","lo","hi"], "range": [2.2,1.1,1.1]}, "legend": null}, "strokeDash": {"field": "k", "type": "nominal", "scale": {"domain": ["fit","lo","hi"], "range": [[1,0],[1.2,3],[1.2,3]]}, "legend": null}}}
   ]},
  {"width": 248, "height": 138, "title": "With BSJ",
   "encoding": {"x": {"field": "x", "type": "quantitative", "scale": {"domain": [0, 38.4], "nice": false, "zero": false}, "axis": {"values": [0,10,20,30], "format": "d", "title": null}},
                "y": {"field": "y", "type": "quantitative", "scale": {"domain": [0, 63.4], "nice": false}, "axis": {"values": [0,20,40,60], "format": ".1f", "title": null}}},
   "layer": [
    {"data": {"name": "chestPts"}, "transform": [{"filter": "datum.p=='w' && datum.t!='Outliers'"}], "mark": {"type": "point", "filled": true, "opacity": 1, "strokeWidth": 0.7},
     "encoding": {"fill": {"field": "t", "type": "nominal", "scale": {"domain": ["Sport","S.Touring","Scooter","Outliers"], "range": ["#0072BD","#D95319","#EDB120","#FF0000"]}, "legend": null},
                  "stroke": {"field": "t", "type": "nominal", "scale": {"domain": ["Sport","S.Touring","Scooter","Outliers"], "range": ["#262626","#262626","#262626","#FF0000"]}, "legend": null},
                  "shape": {"field": "t", "type": "nominal", "scale": {"domain": ["Sport","S.Touring","Scooter","Outliers"], "range": ["circle","circle","circle","M-1,-0.72L-0.72,-1L0,-0.28L0.72,-1L1,-0.72L0.28,0L1,0.72L0.72,1L0,0.28L-0.72,1L-1,0.72L-0.28,0Z"]}, "legend": null},
                  "size": {"field": "t", "type": "ordinal", "scale": {"domain": ["Sport","S.Touring","Scooter","Outliers"], "range": [170,170,170,90]}, "legend": null}}},
    {"data": {"name": "chestFit"}, "transform": [{"filter": "datum.p=='w'"}], "mark": {"type": "line", "stroke": "black", "interpolate": "monotone"},
     "encoding": {"detail": {"field": "k"}, "strokeWidth": {"field": "k", "type": "ordinal", "scale": {"domain": ["fit","lo","hi"], "range": [2.2,1.1,1.1]}, "legend": null}, "strokeDash": {"field": "k", "type": "nominal", "scale": {"domain": ["fit","lo","hi"], "range": [[1,0],[1.2,3],[1.2,3]]}, "legend": null}}},
    {"data": {"name": "chestPts"}, "transform": [{"filter": "datum.p=='w' && datum.t=='Outliers'"}], "mark": {"type": "point", "filled": true, "opacity": 1, "strokeWidth": 0.7},
     "encoding": {"fill": {"field": "t", "type": "nominal", "scale": {"domain": ["Sport","S.Touring","Scooter","Outliers"], "range": ["#0072BD","#D95319","#EDB120","#FF0000"]}, "legend": null},
                  "stroke": {"field": "t", "type": "nominal", "scale": {"domain": ["Sport","S.Touring","Scooter","Outliers"], "range": ["#262626","#262626","#262626","#FF0000"]}, "legend": null},
                  "shape": {"field": "t", "type": "nominal", "scale": {"domain": ["Sport","S.Touring","Scooter","Outliers"], "range": ["circle","circle","circle","M-1,-0.72L-0.72,-1L0,-0.28L0.72,-1L1,-0.72L0.28,0L1,0.72L0.72,1L0,0.28L-0.72,1L-1,0.72L-0.28,0Z"]}, "legend": null},
                  "size": {"field": "t", "type": "ordinal", "scale": {"domain": ["Sport","S.Touring","Scooter","Outliers"], "range": [170,170,170,90]}, "legend": null}}}
   ]}
  ], "spacing": 50, "bounds": "flush",
  "resolve": {"scale": {"x": "independent", "y": "independent"}}},
 {"title": {"text": "Focus: Abdomen", "font": "Liberation Sans", "fontSize": 20, "fontWeight": "bold", "color": "#262626", "anchor": "middle", "frame": "bounds", "dx": 25, "offset": 6},
  "hconcat": [
  {"width": 248, "height": 138, "title": {"text": "Without BSJ", "offset": 5},
   "encoding": {"x": {"field": "x", "type": "quantitative", "scale": {"domain": [0, 38.4], "nice": false, "zero": false}, "axis": {"values": [0,10,20,30], "format": "d", "title": "Crash Severity [m/s]", "titleX": 273, "titleAlign": "center"}},
                "y": {"field": "y", "type": "quantitative", "scale": {"domain": [0, 25.4], "nice": false}, "axis": {"values": [0,10,20], "format": ".1f", "title": "Penetration [mm]"}}},
   "layer": [
    {"data": {"name": "abdPts"}, "transform": [{"filter": "datum.p=='wo' && datum.t!='Outliers'"}], "mark": {"type": "point", "filled": true, "opacity": 1, "strokeWidth": 0.7},
     "encoding": {"fill": {"field": "t", "type": "nominal", "scale": {"domain": ["Sport","S.Touring","Scooter","Outliers"], "range": ["#0072BD","#D95319","#EDB120","#FF0000"]}, "legend": {"title": null, "orient": "none", "legendX": 104, "legendY": -53, "direction": "horizontal", "columns": 4}},
                  "stroke": {"field": "t", "type": "nominal", "scale": {"domain": ["Sport","S.Touring","Scooter","Outliers"], "range": ["#262626","#262626","#262626","#FF0000"]}, "legend": {"title": null, "orient": "none", "legendX": 104, "legendY": -53, "direction": "horizontal", "columns": 4}},
                  "shape": {"field": "t", "type": "nominal", "scale": {"domain": ["Sport","S.Touring","Scooter","Outliers"], "range": ["circle","circle","circle","M-1,-0.72L-0.72,-1L0,-0.28L0.72,-1L1,-0.72L0.28,0L1,0.72L0.72,1L0,0.28L-0.72,1L-1,0.72L-0.28,0Z"]}, "legend": {"title": null, "orient": "none", "legendX": 104, "legendY": -53, "direction": "horizontal", "columns": 4}},
                  "size": {"field": "t", "type": "ordinal", "scale": {"domain": ["Sport","S.Touring","Scooter","Outliers"], "range": [170,170,170,90]}, "legend": null}}},
    {"data": {"name": "abdFit"}, "transform": [{"filter": "datum.p=='wo'"}], "mark": {"type": "line", "stroke": "black", "interpolate": "monotone"},
     "encoding": {"detail": {"field": "k"}, "strokeWidth": {"field": "k", "type": "ordinal", "scale": {"domain": ["fit","lo","hi"], "range": [2.2,1.1,1.1]}, "legend": null}, "strokeDash": {"field": "k", "type": "nominal", "scale": {"domain": ["fit","lo","hi"], "range": [[1,0],[1.2,3],[1.2,3]]}, "legend": null}}},
    {"data": {"name": "abdPts"}, "transform": [{"filter": "datum.p=='wo' && datum.t=='Outliers'"}], "mark": {"type": "point", "filled": true, "opacity": 1, "strokeWidth": 0.7},
     "encoding": {"fill": {"field": "t", "type": "nominal", "scale": {"domain": ["Sport","S.Touring","Scooter","Outliers"], "range": ["#0072BD","#D95319","#EDB120","#FF0000"]}, "legend": {"title": null, "orient": "none", "legendX": 104, "legendY": -53, "direction": "horizontal", "columns": 4}},
                  "stroke": {"field": "t", "type": "nominal", "scale": {"domain": ["Sport","S.Touring","Scooter","Outliers"], "range": ["#262626","#262626","#262626","#FF0000"]}, "legend": {"title": null, "orient": "none", "legendX": 104, "legendY": -53, "direction": "horizontal", "columns": 4}},
                  "shape": {"field": "t", "type": "nominal", "scale": {"domain": ["Sport","S.Touring","Scooter","Outliers"], "range": ["circle","circle","circle","M-1,-0.72L-0.72,-1L0,-0.28L0.72,-1L1,-0.72L0.28,0L1,0.72L0.72,1L0,0.28L-0.72,1L-1,0.72L-0.28,0Z"]}, "legend": {"title": null, "orient": "none", "legendX": 104, "legendY": -53, "direction": "horizontal", "columns": 4}},
                  "size": {"field": "t", "type": "ordinal", "scale": {"domain": ["Sport","S.Touring","Scooter","Outliers"], "range": [170,170,170,90]}, "legend": null}}}
   ]},
  {"width": 248, "height": 138, "title": "With BSJ",
   "encoding": {"x": {"field": "x", "type": "quantitative", "scale": {"domain": [0, 38.4], "nice": false, "zero": false}, "axis": {"values": [0,10,20,30], "format": "d", "title": null}},
                "y": {"field": "y", "type": "quantitative", "scale": {"domain": [0, 25.4], "nice": false}, "axis": {"values": [0,10,20], "format": ".1f", "title": null}}},
   "layer": [
    {"data": {"name": "abdPts"}, "transform": [{"filter": "datum.p=='w' && datum.t!='Outliers'"}], "mark": {"type": "point", "filled": true, "opacity": 1, "strokeWidth": 0.7},
     "encoding": {"fill": {"field": "t", "type": "nominal", "scale": {"domain": ["Sport","S.Touring","Scooter","Outliers"], "range": ["#0072BD","#D95319","#EDB120","#FF0000"]}, "legend": null},
                  "stroke": {"field": "t", "type": "nominal", "scale": {"domain": ["Sport","S.Touring","Scooter","Outliers"], "range": ["#262626","#262626","#262626","#FF0000"]}, "legend": null},
                  "shape": {"field": "t", "type": "nominal", "scale": {"domain": ["Sport","S.Touring","Scooter","Outliers"], "range": ["circle","circle","circle","M-1,-0.72L-0.72,-1L0,-0.28L0.72,-1L1,-0.72L0.28,0L1,0.72L0.72,1L0,0.28L-0.72,1L-1,0.72L-0.28,0Z"]}, "legend": null},
                  "size": {"field": "t", "type": "ordinal", "scale": {"domain": ["Sport","S.Touring","Scooter","Outliers"], "range": [170,170,170,90]}, "legend": null}}},
    {"data": {"name": "abdFit"}, "transform": [{"filter": "datum.p=='w'"}], "mark": {"type": "line", "stroke": "black", "interpolate": "monotone"},
     "encoding": {"detail": {"field": "k"}, "strokeWidth": {"field": "k", "type": "ordinal", "scale": {"domain": ["fit","lo","hi"], "range": [2.2,1.1,1.1]}, "legend": null}, "strokeDash": {"field": "k", "type": "nominal", "scale": {"domain": ["fit","lo","hi"], "range": [[1,0],[1.2,3],[1.2,3]]}, "legend": null}}},
    {"data": {"name": "abdPts"}, "transform": [{"filter": "datum.p=='w' && datum.t=='Outliers'"}], "mark": {"type": "point", "filled": true, "opacity": 1, "strokeWidth": 0.7},
     "encoding": {"fill": {"field": "t", "type": "nominal", "scale": {"domain": ["Sport","S.Touring","Scooter","Outliers"], "range": ["#0072BD","#D95319","#EDB120","#FF0000"]}, "legend": null},
                  "stroke": {"field": "t", "type": "nominal", "scale": {"domain": ["Sport","S.Touring","Scooter","Outliers"], "range": ["#262626","#262626","#262626","#FF0000"]}, "legend": null},
                  "shape": {"field": "t", "type": "nominal", "scale": {"domain": ["Sport","S.Touring","Scooter","Outliers"], "range": ["circle","circle","circle","M-1,-0.72L-0.72,-1L0,-0.28L0.72,-1L1,-0.72L0.28,0L1,0.72L0.72,1L0,0.28L-0.72,1L-1,0.72L-0.28,0Z"]}, "legend": null},
                  "size": {"field": "t", "type": "ordinal", "scale": {"domain": ["Sport","S.Touring","Scooter","Outliers"], "range": [170,170,170,90]}, "legend": null}}}
   ]}
  ], "spacing": 50, "bounds": "flush",
  "resolve": {"scale": {"x": "independent", "y": "independent"}}}
 ], "spacing": 47,
 "resolve": {"scale": {"x": "independent", "y": "independent", "fill": "independent", "stroke": "independent", "shape": "independent"}, "legend": {"fill": "independent", "stroke": "independent", "shape": "independent"}}}
],
"spacing": 23,
"resolve": {"scale": {"x": "independent", "y": "independent", "fill": "independent", "stroke": "independent", "shape": "independent"}, "legend": {"fill": "independent", "stroke": "independent", "shape": "independent"}},
"config": {
 "view": {"stroke": null},
 "font": "Liberation Serif",
 "axis": {"grid": false, "domainColor": "#262626", "domainWidth": 1, "tickColor": "#262626", "tickSize": -4, "tickWidth": 1, "labelPadding": 8, "labelFont": "Liberation Serif", "labelFontSize": 14, "labelColor": "#262626", "titleFont": "Liberation Serif", "titleFontSize": 17, "titleFontWeight": "normal", "titleColor": "#000000", "titlePadding": 4},
 "axisX": {"titleFont": "Liberation Sans", "titleFontSize": 19, "titleColor": "#262626", "titlePadding": 10},
 "title": {"font": "Liberation Serif", "fontSize": 17, "fontWeight": "normal", "color": "#000000", "offset": 7},
 "legend": {"symbolSize": 64, "symbolStrokeWidth": 0.7, "symbolOffset": 12, "columnPadding": 7, "labelOffset": 14, "labelFont": "Liberation Serif", "labelFontSize": 13, "labelColor": "#000000", "padding": 3, "strokeColor": "#262626", "fillColor": "white", "symbolOpacity": 1}
}
}
